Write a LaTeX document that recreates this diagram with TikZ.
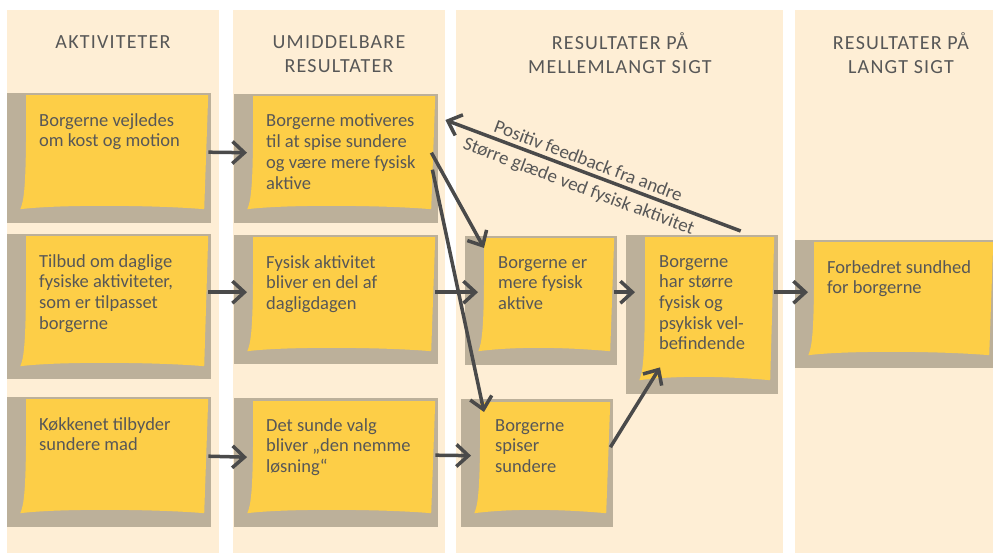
\documentclass[tikz,border=0pt]{standalone}
\usepackage{fontspec}
\setmainfont{Carlito}
\newfontfamily\overskriftfont[LetterSpace=6]{Carlito}
\usepackage{tikz}
\usetikzlibrary{positioning,calc}
\usetikzlibrary{arrows.meta}
\definecolor{kolonnefarve}{HTML}{FEEED5}
\definecolor{bagfarve}{HTML}{BCB09A}
\definecolor{gulfarve}{HTML}{FDCE47}
\definecolor{tekstfarve}{HTML}{575757}
\definecolor{pilfarve}{HTML}{4A4A4A}
\tikzstyle{bagkort} = [rectangle, fill=bagfarve, anchor=north west, inner sep=0pt]
\tikzstyle{seddel} = [rectangle, anchor=north west, inner sep=0pt, path picture={
	\coordinate (nw) at (path picture bounding box.north west);
	\coordinate (ne) at (path picture bounding box.north east);
	\coordinate (se) at (path picture bounding box.south east);
	\coordinate (sw) at (path picture bounding box.south west);
	\fill[gulfarve] ([xshift=6pt]nw) -- (ne) -- ([xshift=-4pt]se) .. controls ([shift={(-50pt,4pt)}]se) and ([shift={(40pt,5pt)}]sw) .. (sw) .. controls ([shift={(5pt,10pt)}]sw) and ([shift={(6pt,35pt)}]sw) .. ([xshift=6pt]nw) -- cycle;}]
\tikzstyle{tekst} = [anchor=north west, align=left, inner sep=0pt, text=tekstfarve, font=\fontsize{18.5}{20.7}\selectfont]
\tikzstyle{overskrift} = [align=center, inner sep=0pt, text=tekstfarve, font=\overskriftfont\fontsize{20}{24}\selectfont]
\tikzstyle{pil} = [line width=3.5pt, draw=pilfarve, -{Straight Barb[length=12pt,width=22pt]}]

\begin{document}
\begin{tikzpicture}[x=1pt,y=-1pt]
	\useasboundingbox (0,0) rectangle (993,553);
	% kolonner
	\fill[kolonnefarve] (7,10) rectangle (219,553);
	\fill[kolonnefarve] (233,10) rectangle (445,553);
	\fill[kolonnefarve] (456,10) rectangle (783,553);
	\fill[kolonnefarve] (795,10) rectangle (993,553);
	\node (h1) at (113,42) [overskrift] {AKTIVITETER};
	\node (h2) at (339,54) [overskrift] {UMIDDELBARE\\RESULTATER};
	\node (h3) at (620,53) [overskrift] {RESULTATER PÅ\\MELLEMLANGT SIGT};
	\node (h4) at (901,53) [overskrift] {RESULTATER PÅ\\LANGT SIGT};
	% bagkort
	\node (b11) at (7,93) [bagkort, minimum width=204pt, minimum height=130pt] {};
	\node (b12) at (234,94) [bagkort, minimum width=204pt, minimum height=129pt] {};
	\node (b21) at (7,234) [bagkort, minimum width=204pt, minimum height=145pt] {};
	\node (b22) at (234,235) [bagkort, minimum width=204pt, minimum height=129pt] {};
	\node (b31) at (7,397) [bagkort, minimum width=204pt, minimum height=130pt] {};
	\node (b32) at (234,398) [bagkort, minimum width=204pt, minimum height=129pt] {};
	\node (bA) at (465,236) [bagkort, minimum width=152pt, minimum height=129pt] {};
	\node (bB) at (626,235) [bagkort, minimum width=152pt, minimum height=159pt] {};
	\node (bC) at (461,399) [bagkort, minimum width=152pt, minimum height=128pt] {};
	\node (bD) at (795,240) [bagkort, minimum width=198pt, minimum height=128pt] {};
	% sedler
	\node (n11) at (20,95) [seddel, minimum width=188pt, minimum height=114pt] {};
	\node (n12) at (247,96) [seddel, minimum width=188pt, minimum height=113pt] {};
	\node (n21) at (20,236) [seddel, minimum width=188pt, minimum height=130pt] {};
	\node (n22) at (247,237) [seddel, minimum width=188pt, minimum height=114pt] {};
	\node (n31) at (20,399) [seddel, minimum width=188pt, minimum height=114pt] {};
	\node (n32) at (247,401) [seddel, minimum width=188pt, minimum height=112pt] {};
	\node (nA) at (478,238) [seddel, minimum width=136pt, minimum height=113pt] {};
	\node (nB) at (639,237) [seddel, minimum width=135pt, minimum height=143pt] {};
	\node (nC) at (474,402) [seddel, minimum width=136pt, minimum height=111pt] {};
	\node (nD) at (808,242) [seddel, minimum width=185pt, minimum height=113pt] {};
	% tekster
	\node (t11) at ([shift={(19pt,-18pt)}]n11.north west) [tekst] {Borgerne vejledes\\om kost og motion};
	\node (t12) at ([shift={(19pt,-18pt)}]n12.north west) [tekst] {Borgerne motiveres\\til at spise sundere\\og være mere fysisk\\aktive};
	\node (t21) at ([shift={(19pt,-18pt)}]n21.north west) [tekst] {Tilbud om daglige\\fysiske aktiviteter,\\som er tilpasset\\borgerne};
	\node (t22) at ([shift={(19pt,-18pt)}]n22.north west) [tekst] {Fysisk aktivitet\\bliver en del af\\dagligdagen};
	\node (t31) at ([shift={(19pt,-18pt)}]n31.north west) [tekst] {Køkkenet tilbyder\\sundere mad};
	\node (t32) at ([shift={(19pt,-17pt)}]n32.north west) [tekst] {Det sunde valg\\bliver „den nemme\\løsning“};
	\node (tA) at ([shift={(20pt,-18pt)}]nA.north west) [tekst] {Borgerne er\\mere fysisk\\aktive};
	\node (tB) at ([shift={(20pt,-18pt)}]nB.north west) [tekst] {Borgerne\\har større\\fysisk og\\psykisk vel-\\befindende};
	\node (tC) at ([shift={(21pt,-17pt)}]nC.north west) [tekst] {Borgerne\\spiser\\sundere};
	\node (tD) at ([shift={(19pt,-18pt)}]nD.north west) [tekst] {Forbedret sundhed\\for borgerne};
	% pile
	\draw[pil] (n11.east) -- (n12.west);
	\draw[pil] ([yshift=9pt]n21.east) -- ([yshift=2pt]n22.west);
	\draw[pil] (n31.east) -- (n32.west);
	\draw[pil] ([yshift=2pt]n22.east) -- ([yshift=2pt]n22.east -| nA.west);
	\draw[pil, shorten >=3pt] ([yshift=2pt]n32.east) -- ([yshift=2pt]nC.west);
	\draw[pil] ([xshift=-4pt]n12.east) -- ([shift={(6pt,-10pt)}]nA.north west);
	\draw[pil] ([shift={(-3pt,-17pt)}]n12.east) -- ([shift={(10pt,-10pt)}]nC.north west);
	\draw[pil, shorten >=4pt] ([yshift=2.5pt]nA.east) -- ([yshift=2.5pt]nA.east -| nB.west);
	\draw[pil] ([yshift=10.5pt]nC.east) -- ([shift={(21pt,13pt)}]nB.south west);
	\draw[pil] ([yshift=16.5pt]nB.east) -- ([yshift=6.5pt]nD.west);
	\draw[pil] ([shift={(34pt,6pt)}]nB.north) -- ([shift={(10pt,-24pt)}]n12.north east)
		node[pos=0.53, sloped, above=4pt, inner sep=0pt, text=tekstfarve, font=\fontsize{19}{22}\selectfont] (f1) {Positiv feedback fra andre}
		node[pos=0.53, sloped, below=6pt, inner sep=0pt, text=tekstfarve, font=\fontsize{19}{22}\selectfont] (f2) {Større glæde ved fysisk aktivitet};
\end{tikzpicture}
\end{document}
